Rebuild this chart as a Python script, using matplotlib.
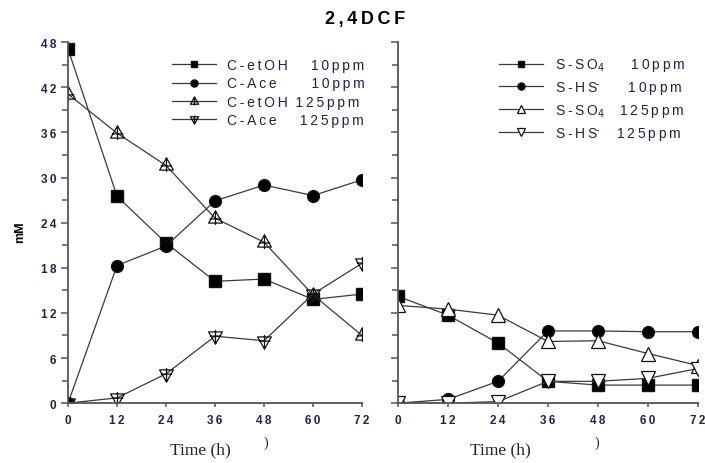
import matplotlib

matplotlib.use("Agg")
import matplotlib.pyplot as plt
from matplotlib.path import Path
from matplotlib.ticker import FuncFormatter, MultipleLocator

TIME_H = [0, 12, 24, 36, 48, 60, 72]

# left panel: carbon (mM)
C_ETOH_10 = [47.1, 27.5, 21.3, 16.2, 16.5, 13.8, 14.5]
C_ACE_10 = [0.0, 18.3, 20.9, 26.9, 29.0, 27.6, 29.7]
C_ETOH_125 = [41.1, 35.9, 31.6, 24.6, 21.4, 14.4, 9.0]
C_ACE_125 = [0.0, 0.7, 3.9, 8.9, 8.3, 14.5, 18.6]

# right panel: sulfur (mM)
S_SO4_10 = [14.2, 11.7, 8.0, 2.9, 2.4, 2.4, 2.4]
S_HS_10 = [0.0, 0.5, 2.9, 9.6, 9.6, 9.5, 9.5]
S_SO4_125 = [13.0, 12.5, 11.7, 8.2, 8.3, 6.6, 5.0]
S_HS_125 = [0.0, 0.0, 0.2, 2.9, 2.9, 3.3, 4.6]

SP = "\u2009"  # thin space used as letter spacing


def spaced(s):
    return SP.join(s)


LEFT_LABELS = [spaced("C-etOH") + "      " + spaced("10ppm"),
               spaced("C-Ace") + "         " + spaced("10ppm"),
               spaced("C-etOH") + "  " + spaced("125ppm"),
               spaced("C-Ace") + "      " + spaced("125ppm")]
RIGHT_LABELS = [spaced("S-SO") + "$_4$" + "       " + spaced("10ppm"),
                spaced("S-HS") + "$^{\\bar{}}$" + "        " + spaced("10ppm"),
                spaced("S-SO") + "$_4$" + "    " + spaced("125ppm"),
                spaced("S-HS") + "$^{\\bar{}}$" + "     " + spaced("125ppm")]

FAMILY = ["Liberation Sans", "DejaVu Sans"]
LINE = "#3a3a3a"
TICK_TXT = "#23234a"


def _cross_triangle(up=True):
    s = 1 if up else -1
    verts = [(0, s * 1), (-0.9, -s * 0.6), (0.9, -s * 0.6), (0, s * 1),
             (0, s * 1), (0, -s * 0.85),
             (-0.75, -s * 0.05), (0.75, -s * 0.05)]
    codes = [Path.MOVETO, Path.LINETO, Path.LINETO, Path.CLOSEPOLY,
             Path.MOVETO, Path.LINETO, Path.MOVETO, Path.LINETO]
    return Path(verts, codes)


def _style_axes(ax, show_labels):
    for side in ("top", "right"):
        ax.spines[side].set_visible(False)
    for side in ("left", "bottom"):
        ax.spines[side].set_color("#555555")
        ax.spines[side].set_linewidth(1.3)
    ax.set_xlim(0, 72)
    ax.set_ylim(0, 48)
    ax.xaxis.set_major_locator(MultipleLocator(12))
    ax.yaxis.set_major_locator(MultipleLocator(6))
    ax.yaxis.set_minor_locator(MultipleLocator(3))
    fmt = FuncFormatter(lambda v, _: spaced(f"{v:.0f}"))
    ax.xaxis.set_major_formatter(fmt)
    ax.yaxis.set_major_formatter(fmt)
    ax.tick_params(axis="both", which="both", direction="out", color="#555555",
                   width=1.1, labelcolor=TICK_TXT)
    ax.tick_params(axis="y", which="major", length=5)
    ax.tick_params(axis="y", which="minor", length=4)
    ax.tick_params(axis="x", length=3, pad=5)
    for lab in ax.get_xticklabels() + ax.get_yticklabels():
        lab.set_fontweight("bold")
        lab.set_fontsize(8.5)
        lab.set_family(FAMILY)
    if not show_labels:
        ax.tick_params(axis="y", labelleft=False)


fig = plt.figure(figsize=(7.05, 4.64), dpi=100)
ax_c = fig.add_axes([0.0965, 0.129, 0.417, 0.778])
ax_s = fig.add_axes([0.5645, 0.129, 0.4255, 0.778])

kw = dict(color=LINE, lw=0.9, mec="#111111")
ax_c.plot(TIME_H, C_ETOH_10, marker="s", ms=8, mfc="black", label=LEFT_LABELS[0], **kw)
ax_c.plot(TIME_H, C_ACE_10, marker="o", ms=8.5, mfc="black", label=LEFT_LABELS[1], **kw)
ax_c.plot(TIME_H, C_ETOH_125, marker=_cross_triangle(True), ms=11, mfc="none", mew=0.9,
          label=LEFT_LABELS[2], **kw)
ax_c.plot(TIME_H, C_ACE_125, marker=_cross_triangle(False), ms=11, mfc="none", mew=0.9,
          label=LEFT_LABELS[3], **kw)

ax_s.plot(TIME_H, S_SO4_10, marker="s", ms=8, mfc="black", label=RIGHT_LABELS[0], **kw)
ax_s.plot(TIME_H, S_HS_10, marker="o", ms=8.5, mfc="black", label=RIGHT_LABELS[1], **kw)
ax_s.plot(TIME_H, S_SO4_125, marker="^", ms=10, mfc="white", mew=0.9,
          label=RIGHT_LABELS[2], **kw)
ax_s.plot(TIME_H, S_HS_125, marker="v", ms=10, mfc="white", mew=0.9,
          label=RIGHT_LABELS[3], **kw)

_style_axes(ax_c, True)
_style_axes(ax_s, False)

leg_kw = dict(frameon=False, markerscale=0.6, handlelength=3.2, handletextpad=0.8,
              prop={"family": FAMILY, "size": 10}, labelcolor="#222244")
ax_c.legend(loc="upper left", bbox_to_anchor=(0.31, 0.99), labelspacing=0.3, **leg_kw)
ax_s.legend(loc="upper left", bbox_to_anchor=(0.295, 0.995), labelspacing=0.42, **leg_kw)

fig.text(0.518, 0.957, spaced("2,4DCF"), ha="center", va="center", fontsize=13,
         fontweight="bold", family=FAMILY)
fig.text(0.028, 0.5, "mM", rotation=90, ha="center", va="center", fontsize=9,
         fontweight="bold", family=FAMILY)
for x in (0.284, 0.71):
    fig.text(x, 0.03, "Time (h)", ha="center", va="center", fontsize=12.5,
             family="Liberation Serif", color="#222222")
for x in (0.377, 0.847):
    fig.text(x, 0.045, ")", ha="center", va="center", fontsize=10,
             family="Liberation Serif", color="#222222")

fig.savefig("out.png", dpi=100)
